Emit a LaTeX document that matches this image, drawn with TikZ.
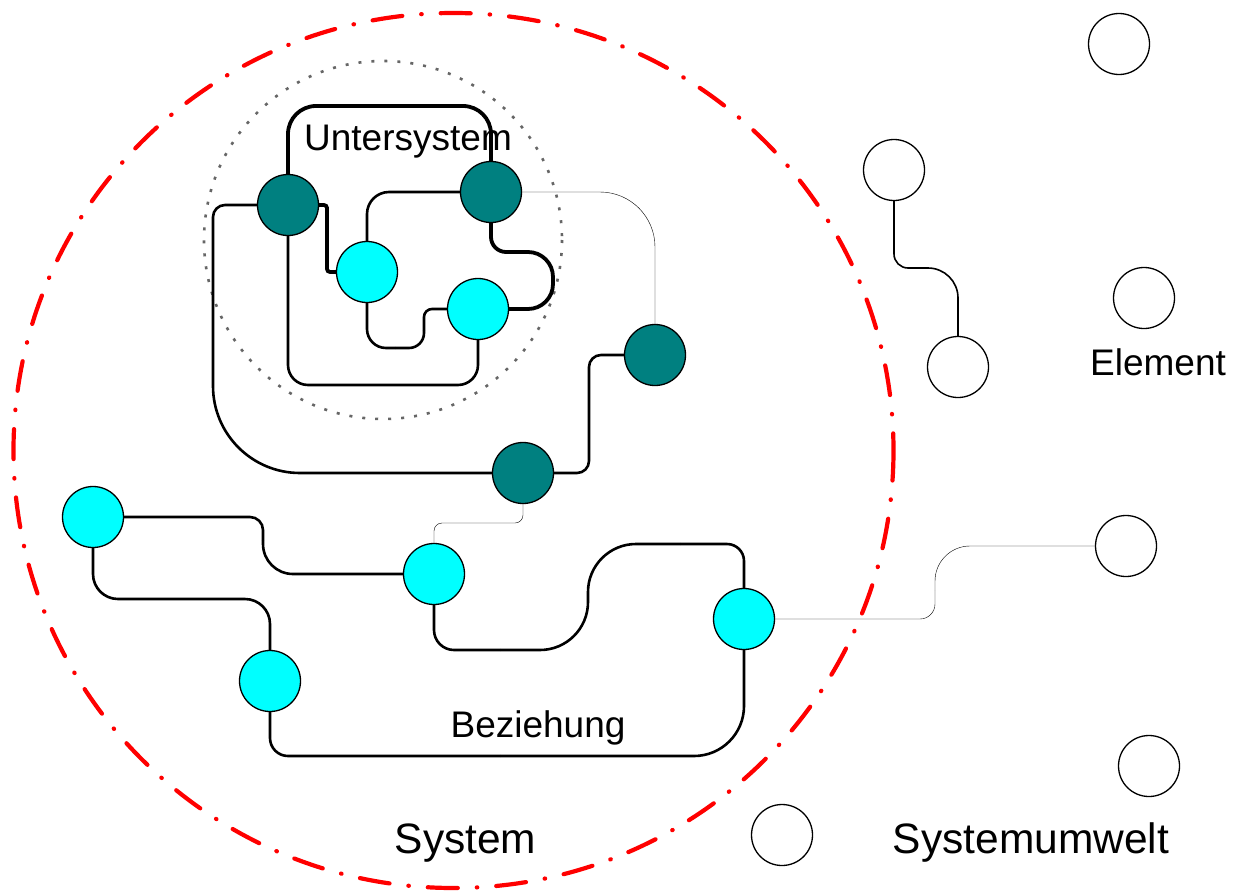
\documentclass[tikz,border=0pt]{standalone}
\usepackage{fontspec}
\setmainfont{Liberation Sans}
\definecolor{teal}{HTML}{008080}
\definecolor{aqua}{HTML}{00FFFF}
\definecolor{thin}{HTML}{333333}
\definecolor{dots}{HTML}{666666}
\begin{document}
\begin{tikzpicture}[x=1pt,y=-1pt,
  elem/.style={circle,draw=black,line width=1.3pt,minimum size=61pt,inner sep=0pt},
  dark/.style={elem,fill=teal},
  light/.style={elem,fill=aqua},
  empty/.style={elem,fill=white},
  heavy/.style={line width=3.8pt,black},
  mid/.style={line width=2.6pt,black},
  fine/.style={line width=1.8pt,thin},
  finebk/.style={line width=1.6pt,black},
  lbl/.style={anchor=base,inner sep=0pt,font=\fontsize{37}{40}\selectfont},
  biglbl/.style={anchor=base,inner sep=0pt,font=\fontsize{42.5}{46}\selectfont}]
\useasboundingbox (0,0) rectangle (1233,891);
% system boundary
\draw[red,line width=4.2pt,line cap=round,dash pattern=on 30pt off 19pt on 0.5pt off 19pt]
  (453.5,450.5) ellipse [x radius=440, y radius=437.5];
% subsystem boundary
\draw[dots,line width=2.6pt,dash pattern=on 3pt off 10pt] (383,240) circle [radius=179];
% elements
\node[dark] (D1) at (288,205) {};
\node[dark] (D2) at (491,192) {};
\node[dark] (D3) at (655,355) {};
\node[dark] (D4) at (523,473) {};
\node[light] (C1) at (367,272) {};
\node[light] (C2) at (478,309) {};
\node[light] (C3) at (93,517) {};
\node[light] (C4) at (270,681) {};
\node[light] (C5) at (434,574) {};
\node[light] (C6) at (744,619) {};
\node[empty] (W1) at (1119,44) {};
\node[empty] (W2) at (894,170) {};
\node[empty] (W3) at (958,367) {};
\node[empty] (W4) at (1144,298) {};
\node[empty] (W5) at (1126,546) {};
\node[empty] (W6) at (1149,766) {};
\node[empty] (W7) at (782,835) {};
% relations inside subsystem
\draw[heavy,rounded corners=28pt] (D1.north) |- (400,106) -| (D2.north);
\draw[heavy,rounded corners=3pt] (D1.east) -- (327,205) -- (327,272) -- (C1.west);
\draw[heavy,rounded corners=15pt] (D2.south) |- (520,252);
\draw[heavy,rounded corners=25pt] (520,252) -- (553,252) -- (553,309) -- (C2.east);
\draw[mid,rounded corners=22pt] (D2.west) -| (C1.north);
\draw[mid,rounded corners=19pt] (C1.south) |- (395,348);
\draw[mid,rounded corners=15pt] (395,348) -| (424,330);
\draw[mid,rounded corners=8pt] (424,330) |- (C2.west);
\draw[mid,rounded corners=20pt] (D1.south) |- (400,385) -| (C2.south);
% relations in system
\draw[mid,rounded corners=12pt] (D1.west) -| (213,300);
\draw[mid,rounded corners=87pt] (213,300) |- (D4.west);
\draw[fine,rounded corners=55pt] (D2.east) -| (D3.north);
\draw[mid,rounded corners=12pt] (D3.west) -- (589,355) -- (589,473) -- (D4.east);
\draw[fine,rounded corners=8pt] (D4.south) |- (480,523) -| (C5.north);
\draw[mid,rounded corners=13pt] (C3.east) -| (263,540);
\draw[mid,rounded corners=30pt] (263,540) |- (C5.west);
\draw[mid,rounded corners=25pt] (C3.south) |- (180,599) -| (C4.north);
\draw[mid,rounded corners=18pt] (C4.south) |- (500,756);
\draw[mid,rounded corners=50pt] (500,756) -| (C6.south);
\draw[mid,rounded corners=20pt] (C5.south) |- (500,650);
\draw[mid,rounded corners=48pt] (500,650) -- (588,650) -- (588,544) -- (680,544);
\draw[mid,rounded corners=17pt] (680,544) -| (C6.north);
% relations to environment
\draw[fine,rounded corners=15pt] (C6.east) -| (935,590);
\draw[fine,rounded corners=35pt] (935,590) |- (W5.west);
\draw[finebk,rounded corners=14pt] (W2.south) |- (920,268);
\draw[finebk,rounded corners=30pt] (920,268) -| (W3.north);
% labels
\node[lbl] (tU) at (408,150) {Untersystem};
\node[lbl] (tE) at (1158,375) {Element};
\node[lbl] (tB) at (538,737) {Beziehung};
\node[biglbl] (tS) at (465.5,853) {System};
\node[biglbl] (tW) at (1031,853) {Systemumwelt};
\end{tikzpicture}
\end{document}
